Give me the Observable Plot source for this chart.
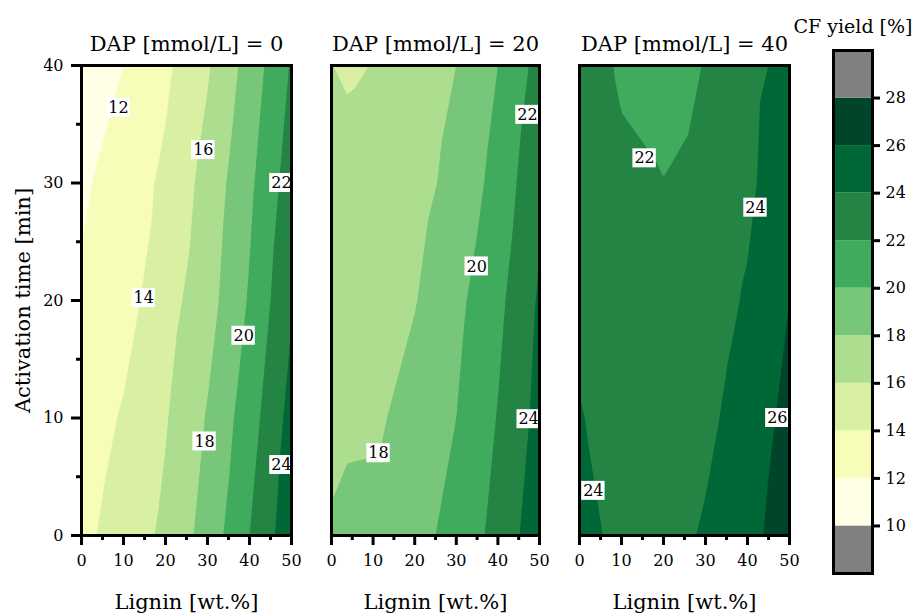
<!DOCTYPE html>
<html><head><meta charset="utf-8">
<script src="https://cdn.jsdelivr.net/npm/d3@7"></script>
<script src="https://cdn.jsdelivr.net/npm/@observablehq/plot@0.6"></script>
<style>
body{margin:0;background:#fff;}
#chart{position:relative;width:914px;height:616px;overflow:hidden;background:#fff;}
#chart > div{position:absolute;top:0;}
</style></head><body><div id="chart"></div>
<script>
// ---------- data ----------
const lignin = [0, 10, 20, 30, 40, 50];          // wt.%
const times = [0, 10, 20, 30, 40];                // min
const dapValues = [0, 20, 40];                    // mmol/L
// CF yield [%], rows = times, cols = lignin
const yieldDap0 = [
  [13.5, 14.9, 16.4, 18.8, 22.0, 25.3],
  [12.9, 14.2, 15.85, 18.15, 21.1, 24.7],
  [12.25, 13.2, 15.2, 17.2, 20.2, 23.8],
  [11.7, 12.9, 14.4, 16.7, 19.6, 23.0],
  [10.8, 12.0, 13.6, 15.8, 18.8, 22.2]
];
const yieldDap20 = [
  [18.2, 18.8, 19.5, 20.5, 22.7, 25.2],
  [17.5, 17.6, 18.8, 20.0, 22.1, 24.6],
  [17.0, 17.2, 17.9, 19.5, 21.5, 24.25],
  [16.6, 16.9, 17.3, 18.6, 20.7, 23.6],
  [16.02, 16.05, 16.9, 18.0, 20.0, 22.7]
];
const extraLignin20 = [5];
const extraTime20 = [40];
const extraYield20 = [15.8];
const yieldDap40 = [
  [24.5, 23.6, 23.3, 24.2, 25.4, 27.0],
  [24.1, 23.3, 23.0, 23.6, 24.8, 26.6],
  [23.6, 22.8, 22.5, 23.1, 24.2, 26.0],
  [23.2, 22.3, 22.05, 22.7, 23.6, 25.4],
  [22.8, 21.8, 21.0, 22.1, 23.4, 24.6]
];
// contour labels: lignin, time, level
const labelLignin0 = [8.8, 14.8, 29.0, 29.3, 38.6, 47.6, 47.6];
const labelTime0   = [36.4, 20.2, 32.8, 8.0, 17.0, 30.0, 6.0];
const labelLevel0  = [12, 14, 16, 18, 20, 22, 24];
const labelLignin20 = [47.1, 34.9, 47.4, 11.3];
const labelTime20   = [35.8, 22.9, 9.9, 7.0];
const labelLevel20  = [22, 20, 24, 18];
const labelLignin40 = [15.5, 41.9, 47.1, 3.3];
const labelTime40   = [32.1, 27.9, 10.0, 3.8];
const labelLevel40  = [22, 24, 26, 24];

const levels = [10, 12, 14, 16, 18, 20, 22, 24, 26, 28];
const levelColors = ["#808080", "#ffffe5", "#f7fcb9", "#d9f0a3", "#addd8e", "#78c679",
                     "#41ab5d", "#238443", "#006837", "#004529", "#808080"];
const colorbarLow = [8, 10, 12, 14, 16, 18, 20, 22, 24, 26, 28];
const colorbarHigh = [10, 12, 14, 16, 18, 20, 22, 24, 26, 28, 30];
const xTicksMajor = [0, 10, 20, 30, 40, 50];
const xTicksMinor = [5, 15, 25, 35, 45];
const yTicksMajor = [0, 10, 20, 30, 40];
const yTicksMinor = [5, 15, 25, 35];
const cbTicks = [10, 12, 14, 16, 18, 20, 22, 24, 26, 28];

// ---------- helpers ----------
const FONT = "DejaVu Serif";
const colorScale = {type: "threshold", domain: levels, range: levelColors};

function gridPoints(grid, exL = [], exT = [], exV = []) {
  const pts = [];
  times.forEach((t, i) => lignin.forEach((l, j) => pts.push({l, t, v: grid[i][j]})));
  exL.forEach((l, k) => pts.push({l, t: exT[k], v: exV[k]}));
  return pts;
}

function boxedLabels(L, T, V) {
  const data = V.map((v, i) => ({l: L[i], t: T[i], s: String(v)}));
  return Plot.text(data, {
    x: "l", y: "t", text: "s", fontSize: 16, fill: "black",
    render(index, scales, values, dims, context, next) {
      const g = next(index, scales, values, dims, context);
      const wrap = d3.create("svg:g");
      for (const i of index) {
        const w = data[i].s.length * 10.2 + 3, h = 19;
        wrap.append("rect").attr("x", values.x[i] - w / 2).attr("y", values.y[i] - h / 2)
          .attr("width", w).attr("height", h).attr("fill", "white");
      }
      wrap.node().appendChild(g);
      return wrap.node();
    }
  });
}

function panel({points, dap, labels, showY, width, marginLeft, marginRight}) {
  const marks = [
    Plot.contour(points, {x: "l", y: "t", fill: "v", interpolate: "barycentric",
      thresholds: levels, x1: 0, x2: 50, y1: 0, y2: 40}),
    boxedLabels(...labels),
    Plot.frame({stroke: "black", strokeWidth: 3}),
    Plot.axisX(xTicksMajor, {tickSize: 10, tickPadding: 9, strokeWidth: 3, fontSize: 16, label: null}),
    Plot.axisX(xTicksMinor, {tickSize: 5, strokeWidth: 3, tickFormat: () => "", label: null}),
    Plot.text([`DAP [mmol/L] = ${dap}`], {frameAnchor: "top", lineAnchor: "middle", dy: -21, fontSize: 21}),
    Plot.text(["Lignin [wt.%]"], {frameAnchor: "bottom", lineAnchor: "middle", dy: 67, fontSize: 21})
  ];
  if (showY) {
    marks.push(
      Plot.axisY(yTicksMajor, {tickSize: 10, tickPadding: 8, strokeWidth: 3, fontSize: 16, label: null}),
      Plot.axisY(yTicksMinor, {tickSize: 5, strokeWidth: 3, tickFormat: () => "", label: null}),
      Plot.text(["Activation time [min]"], {frameAnchor: "left", textAnchor: "middle", lineAnchor: "middle",
        dx: -58, rotate: -90, fontSize: 21})
    );
  }
  return Plot.plot({
    width, height: 616, marginTop: 65, marginBottom: 81, marginLeft, marginRight,
    x: {domain: [0, 50]},
    y: {domain: [0, 40], axis: showY ? undefined : null},
    color: colorScale,
    style: {fontFamily: FONT, fontSize: "16px", color: "black", background: "none", overflow: "visible"},
    marks
  });
}

const chart = document.getElementById("chart");
function place(node, left) {
  const d = document.createElement("div");
  d.style.left = left + "px";
  d.appendChild(node);
  chart.appendChild(d);
}

place(panel({points: gridPoints(yieldDap0), dap: dapValues[0],
  labels: [labelLignin0, labelTime0, labelLevel0], showY: true,
  width: 300, marginLeft: 81, marginRight: 9}), 0);
place(panel({points: gridPoints(yieldDap20, extraLignin20, extraTime20, extraYield20), dap: dapValues[1],
  labels: [labelLignin20, labelTime20, labelLevel20], showY: false,
  width: 250, marginLeft: 31, marginRight: 11}), 300);
place(panel({points: gridPoints(yieldDap40), dap: dapValues[2],
  labels: [labelLignin40, labelTime40, labelLevel40], showY: false,
  width: 250, marginLeft: 29, marginRight: 11}), 550);

// colorbar
const bands = colorbarLow.map((lo, i) => ({lo, hi: colorbarHigh[i]}));
place(Plot.plot({
  width: 124, height: 616, marginTop: 50, marginBottom: 43, marginLeft: 43, marginRight: 42,
  x: {axis: null},
  y: {domain: [8, 30]},
  color: colorScale,
  style: {fontFamily: FONT, fontSize: "16px", color: "black", background: "none", overflow: "visible"},
  marks: [
    Plot.rect(bands, {y1: "lo", y2: "hi", fill: "lo"}),
    Plot.frame({stroke: "black", strokeWidth: 3}),
    Plot.axisY(cbTicks, {anchor: "right", tickSize: 7, tickPadding: 6, strokeWidth: 3, fontSize: 16, label: null}),
    Plot.text(["CF yield [%]"], {frameAnchor: "top", lineAnchor: "middle", dy: -24, fontSize: 19})
  ]
}), 790);
</script></body></html>
